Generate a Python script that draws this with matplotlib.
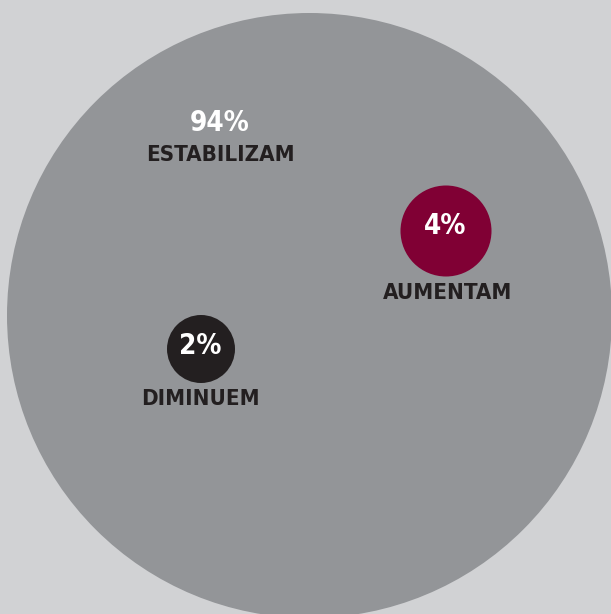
import matplotlib
matplotlib.use("Agg")
import matplotlib.pyplot as plt
from matplotlib.patches import Circle

categories = ["ESTABILIZAM", "AUMENTAM", "DIMINUEM"]
values = [94, 4, 2]
value_labels = ["94%", "4%", "2%"]

# layout / styles (pixel coordinates, not data)
colors = ["#939598", "#800034", "#231f20"]
centers = [(309.5, 315.5), (446, 231), (201, 349)]
radii = [302.5, 45.5, 34]
value_pos = [(219.5, 123), (445, 226), (200.5, 346)]
label_pos = [(220, 155), (448, 293), (200.5, 399)]

plt.rcParams['font.family'] = ['Liberation Sans Narrow', 'DejaVu Sans']

W, H = 611, 614
fig = plt.figure(figsize=(W / 100, H / 100), dpi=100)
fig.patch.set_facecolor("#d1d2d4")
ax = fig.add_axes([0, 0, 1, 1])
ax.set_xlim(0, W)
ax.set_ylim(H, 0)
ax.set_aspect("equal")
ax.axis("off")

for cat, val, lab, col, c, r, vp, lp in zip(categories, values, value_labels,
                                             colors, centers, radii, value_pos, label_pos):
    ax.add_patch(Circle(c, r, facecolor=col, edgecolor="none", zorder=1))
    ax.text(vp[0], vp[1], lab, color="white", fontsize=20, fontweight="bold",
            fontstretch="condensed", ha="center", va="center", zorder=3)
    ax.text(lp[0], lp[1], cat, color="#231f20", fontsize=16, fontweight="bold",
            fontstretch="condensed", ha="center", va="center", zorder=3)

fig.savefig("out.png", dpi=100, facecolor=fig.get_facecolor())
